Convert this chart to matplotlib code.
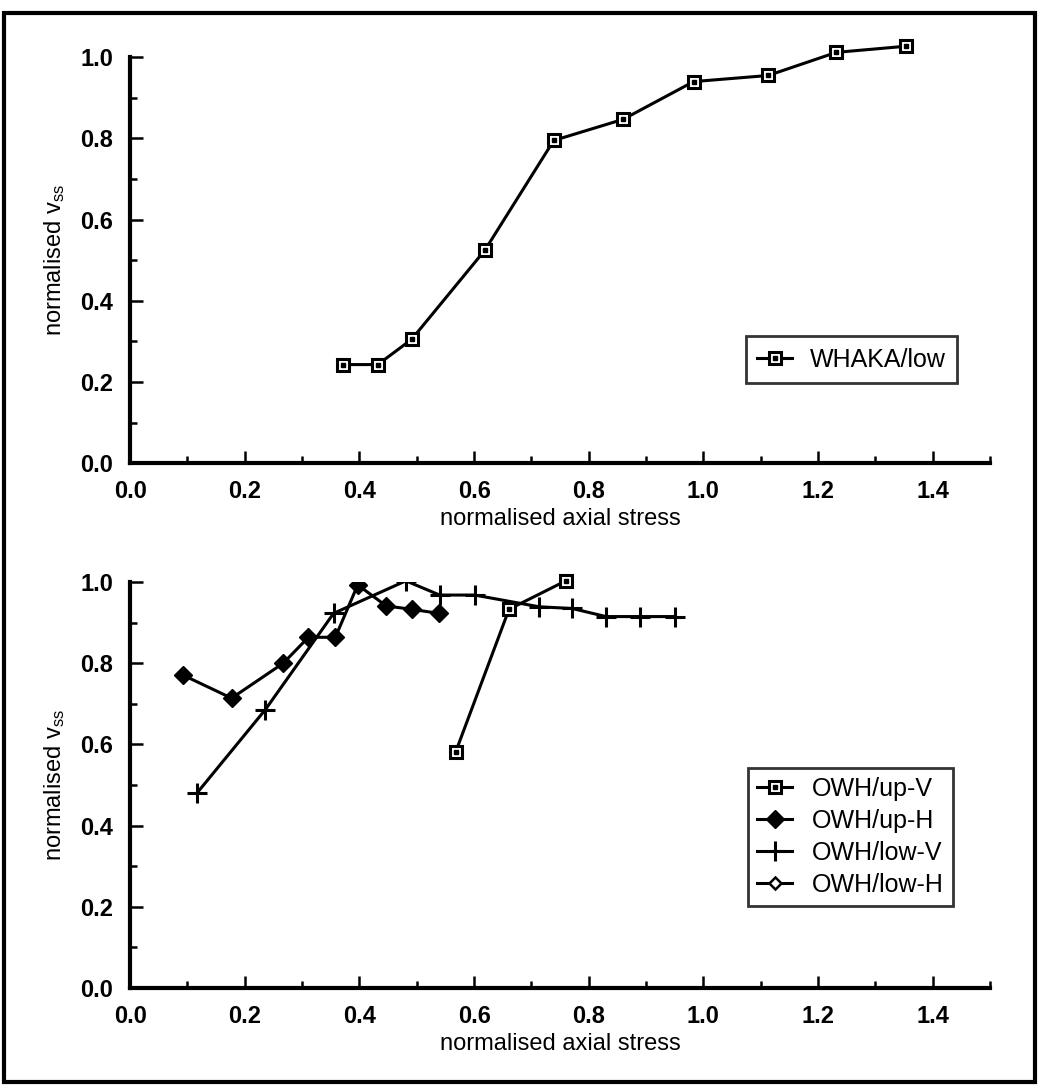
import matplotlib
matplotlib.use("Agg")
import matplotlib.pyplot as plt
from matplotlib.patches import Rectangle
from matplotlib.ticker import MultipleLocator

plt.rcParams['font.family'] = ['Liberation Sans', 'DejaVu Sans']
plt.rcParams['mathtext.default'] = 'regular'

# top panel: WHAKA/low
whaka_x = [0.372, 0.432, 0.491, 0.619, 0.739, 0.860, 0.983, 1.113, 1.232, 1.353]
whaka_y = [0.243, 0.243, 0.305, 0.525, 0.795, 0.847, 0.940, 0.955, 1.012, 1.027]

# bottom panel: OWH series
upv_x = [0.568, 0.661, 0.760]
upv_y = [0.582, 0.933, 1.003]

uph_x = [0.092, 0.177, 0.267, 0.311, 0.358, 0.397, 0.447, 0.491, 0.538]
uph_y = [0.771, 0.714, 0.800, 0.864, 0.864, 0.993, 0.941, 0.933, 0.923]

lowv_x = [0.117, 0.236, 0.355, 0.481, 0.540, 0.601, 0.714, 0.771, 0.830, 0.890, 0.950]
lowv_y = [0.481, 0.686, 0.923, 1.003, 0.968, 0.968, 0.939, 0.935, 0.915, 0.915, 0.915]

lowh_x = []
lowh_y = []

xlabel = "normalised axial stress"
ylabel = r"normalised v$_{\mathregular{ss}}$"

LW = 2.2


def style_axes(ax):
    ax.set_xlim(0, 1.5)
    ax.set_ylim(0, 1.0)
    ax.spines['top'].set_visible(False)
    ax.spines['right'].set_visible(False)
    ax.spines['left'].set_linewidth(3)
    ax.spines['bottom'].set_linewidth(3)
    ax.xaxis.set_major_locator(MultipleLocator(0.2))
    ax.xaxis.set_minor_locator(MultipleLocator(0.1))
    ax.yaxis.set_major_locator(MultipleLocator(0.2))
    ax.yaxis.set_minor_locator(MultipleLocator(0.1))
    ax.tick_params(which='major', direction='in', length=9, width=1.8,
                   labelsize=17, pad=12)
    ax.tick_params(which='minor', direction='in', length=5, width=1.8)
    ax.tick_params(axis='x', pad=12)
    ax.set_xticks([0.0, 0.2, 0.4, 0.6, 0.8, 1.0, 1.2, 1.4])
    ax.set_xticklabels([f"{v:.1f}" for v in ax.get_xticks()], fontweight='bold')
    ax.set_yticklabels([f"{v:.1f}" for v in ax.get_yticks()], fontweight='bold')
    ax.set_xlabel(xlabel, fontsize=17, labelpad=4)
    ax.set_ylabel(ylabel, fontsize=17, labelpad=10)


def square_series(ax, x, y):
    line, = ax.plot(x, y, color='black', lw=LW, marker='s', ms=9,
                    mfc='white', mec='black', mew=2.2, clip_on=False, zorder=3)
    dot, = ax.plot(x, y, ls='none', marker='s', ms=2.2, color='black',
                   clip_on=False, zorder=4)
    return (line, dot)


fig = plt.figure(figsize=(10.41, 10.90), dpi=100)

# top chart
ax1 = fig.add_axes([0.125, 0.575, 0.826, 0.3725])
h_whaka = square_series(ax1, whaka_x, whaka_y)
style_axes(ax1)
leg1 = ax1.legend([h_whaka], ["WHAKA/low"], loc='center left',
                  bbox_to_anchor=(0.716, 0.255), fontsize=18, frameon=True,
                  fancybox=False, edgecolor='black', handlelength=1.4,
                  borderpad=0.45, handletextpad=0.7, borderaxespad=0)
leg1.get_frame().set_linewidth(2)

# bottom chart
ax2 = fig.add_axes([0.125, 0.0935, 0.826, 0.3725])
h_upv = square_series(ax2, upv_x, upv_y)
h_uph, = ax2.plot(uph_x, uph_y, color='black', lw=LW, marker='D', ms=9,
                  mfc='black', mec='black', zorder=3)
h_lowv, = ax2.plot(lowv_x, lowv_y, color='black', lw=LW, marker='+', ms=15,
                   mew=2.2, zorder=3)
h_lowh, = ax2.plot(lowh_x, lowh_y, color='black', lw=LW, marker='D', ms=6,
                   mfc='white', mec='black', mew=1.8)
style_axes(ax2)
leg2 = ax2.legend([h_upv, h_uph, h_lowv, h_lowh],
                  ["OWH/up-V", "OWH/up-H", "OWH/low-V", "OWH/low-H"],
                  loc='center left', bbox_to_anchor=(0.719, 0.372), fontsize=18,
                  frameon=True, fancybox=False, edgecolor='black',
                  handlelength=1.4, borderpad=0.35, labelspacing=0.32,
                  handletextpad=0.8, borderaxespad=0)
leg2.get_frame().set_linewidth(2)

# outer frame
fig.patches.append(Rectangle((0.004, 0.007), 0.99, 0.981, transform=fig.transFigure,
                             fill=False, edgecolor='black', lw=3))

fig.savefig("out.png", dpi=100, facecolor='white')
